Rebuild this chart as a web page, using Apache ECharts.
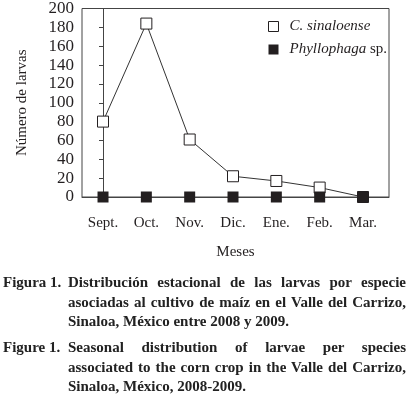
<!DOCTYPE html>
<html>
<head>
<meta charset="utf-8">
<script src="https://cdn.jsdelivr.net/npm/echarts@6/dist/echarts.min.js"></script>
<style>
  html, body { margin: 0; padding: 0; background: #fff; }
  #chart { position: absolute; left: 0; top: 0; width: 410px; height: 397px; }
  .cap {
    position: absolute; left: 3px; width: 403px;
    font-family: "Liberation Serif", "DejaVu Serif", serif;
    font-weight: bold; font-size: 15px; color: #222;
  }
  .cap div { height: 19.5px; line-height: 19.5px; white-space: nowrap; }
  .cap .lab { position: absolute; left: 0; }
  .cap .txt { margin-left: 65px; }
  .cap .j { text-align: justify; text-align-last: justify; }
</style>
</head>
<body>
<div id="chart"></div>
<div class="cap" style="top:273px">
  <div class="lab">Figura 1.</div>
  <div class="txt j">Distribución estacional de las larvas por especie</div>
  <div class="txt j">asociadas al cultivo de maíz en el Valle del Carrizo,</div>
  <div class="txt">Sinaloa, México entre 2008 y 2009.</div>
</div>
<div class="cap" style="top:338px">
  <div class="lab">Figure 1.</div>
  <div class="txt j">Seasonal distribution of larvae per species</div>
  <div class="txt j">associated to the corn crop in the Valle del Carrizo,</div>
  <div class="txt">Sinaloa, México, 2008-2009.</div>
</div>
<script>
const months = ["Sept.", "Oct.", "Nov.", "Dic.", "Ene.", "Feb.", "Mar."];
const sinaloense = [80, 184, 61, 22, 17, 10, 0];
const phyllophaga = [0, 0, 0, 0, 0, 0, 0];
const yTicks = [0, 20, 40, 60, 80, 100, 120, 140, 160, 180, 200];

const serif = '"Liberation Serif", "DejaVu Serif", serif';
const ink = "#231f20";
const idx = months.map((m, i) => i);

const chart = echarts.init(document.getElementById("chart"));
chart.setOption({
  animation: false,
  grid: {
    left: 82, right: 21, top: 7, bottom: 200,
    show: true, borderColor: "#444", borderWidth: 1,
  },
  legend: {
    orient: "vertical",
    left: 268, top: 19, padding: 0,
    itemWidth: 10, itemHeight: 10, itemGap: 8,
    textStyle: {
      fontFamily: serif, fontSize: 15, color: ink, padding: [0, 0, 0, 6],
      rich: { i: { fontFamily: serif, fontSize: 15, fontStyle: "italic", color: ink } },
    },
    formatter: (n) => n === "C. sinaloense" ? "{i|C. sinaloense}" : "{i|Phyllophaga} sp.",
    data: [
      { name: "C. sinaloense", icon: "rect", itemStyle: { color: "#fff", borderColor: ink, borderWidth: 1 } },
      { name: "Phyllophaga sp.", icon: "rect", itemStyle: { color: ink, borderWidth: 0 } },
    ],
  },
  xAxis: {
    type: "value",
    min: -0.485, max: 6.6,
    name: "Meses", nameLocation: "middle", nameGap: 48,
    nameTextStyle: { fontFamily: serif, fontSize: 15, color: ink },
    splitLine: { show: false },
    axisLine: { show: true, lineStyle: { color: "#444" } },
    axisTick: { show: false },
    axisLabel: {
      customValues: idx,
      formatter: (v) => months[v],
      margin: 19,
      fontFamily: serif, fontSize: 15, color: ink,
    },
  },
  yAxis: {
    type: "value",
    min: yTicks[0], max: yTicks[yTicks.length - 1], interval: 20,
    name: "Número de larvas", nameLocation: "middle", nameGap: 52,
    nameTextStyle: { fontFamily: serif, fontSize: 15, color: ink },
    splitLine: { show: false },
    axisLine: { show: true, lineStyle: { color: "#444" } },
    axisTick: { show: true, length: 4, lineStyle: { color: "#444" } },
    axisLabel: { margin: 8, fontFamily: serif, fontSize: 17, color: ink },
  },
  series: [
    {
      name: "C. sinaloense",
      type: "line",
      data: sinaloense.map((v, i) => [i, v]),
      symbol: "rect", symbolSize: 11,
      lineStyle: { color: "#333", width: 1 },
      itemStyle: { color: "#fff", borderColor: ink, borderWidth: 1 },
      z: 2,
    },
    {
      name: "Phyllophaga sp.",
      type: "scatter",
      data: phyllophaga.map((v, i) => [i, v]),
      symbol: "rect", symbolSize: 11,
      itemStyle: { color: ink, opacity: 1 },
      z: 3,
    },
  ],
});
</script>
</body>
</html>
